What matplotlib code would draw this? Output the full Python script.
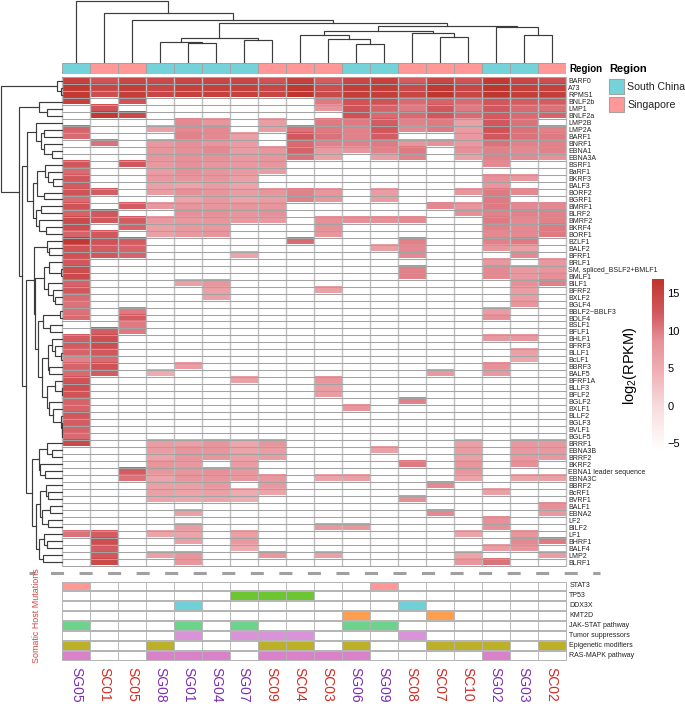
import numpy as np
import matplotlib
matplotlib.use("Agg")
import matplotlib.pyplot as plt
from matplotlib.colors import LinearSegmentedColormap
from matplotlib.patches import Rectangle

plt.rcParams['font.family'] = ['Liberation Sans', 'DejaVu Sans']
plt.rcParams['mathtext.fontset'] = 'custom'
plt.rcParams['mathtext.rm'] = 'Liberation Sans'
plt.rcParams['mathtext.default'] = 'regular'

W, H = 685, 704
_ = np.nan

samples = ["SG05","SC01","SC05","SG08","SG01","SG04","SG07","SC09","SC04","SC03",
           "SG06","SG09","SC08","SC07","SC10","SG02","SG03","SC02"]
regions = ["S","P","P","S","S","S","S","P","P","P","S","S","P","P","P","S","S","P"]
genes = ["BARF0","A73","RPMS1","BNLF2b","LMP1","BNLF2a","LMP2B","LMP2A","BARF1","BNRF1","EBNA1","EBNA3A",
         "BSRF1","BaRF1","BKRF3","BALF3","BORF2","BGRF1","BMRF1","BLRF2","BMRF2","BKRF4","BORF1","BZLF1",
         "BALF2","BFRF1","BRLF1","SM, spliced_BSLF2+BMLF1","BMLF1","BILF1","BFRF2","BXLF2","BGLF4",
         "BBLF2~BBLF3","BDLF4","BSLF1","BFLF1","BHLF1","BFRF3","BLLF1","BcLF1","BBRF3","BALF5","BFRF1A",
         "BLLF3","BFLF2","BGLF2","BXLF1","BLLF2","BGLF3","BVLF1","BGLF5","BRRF1","EBNA3B","BRRF2","BKRF2",
         "EBNA1 leader sequence","EBNA3C","BBRF2","BcRF1","BVRF1","BALF1","EBNA2","LF2","BILF2","LF1",
         "BHRF1","BALF4","LMP2","BLRF1"]

rpkm = [
[15,13,14.5,14,14.5,14.5,14.5,13,15,12,14.5,15,12,14.5,13,16,14.5,13.5],
[16,14.5,15.5,14.5,15,15,15,14.5,16,13.5,15.5,15.5,14,16,14.5,16.5,15,15],
[16,13.5,15.5,14.5,15,15,15,14.5,16.5,14,15.5,15.5,14.5,16.5,14.5,16.5,15.5,15.5],
[15,_,13,_,_,_,_,_,_,10,13,13,11,11.5,11,12.5,12,12],
[_,13,_,_,_,_,_,_,_,8,13,11.5,10,12.5,10,12.5,11,10.5],
[_,16,14,_,_,_,_,_,_,_,13,11,11,12.5,11,12,11,11.5],
[_,_,_,_,9,8,_,7,_,10,10,12,9.5,10,6.5,12.5,10.5,_],
[11.5,_,_,6.5,9,9,_,7,10.5,10,9.5,12.5,9,10,7,13,10.5,9.5],
[11,_,_,_,9.5,9,6.5,_,12.5,10.5,9.5,12,_,_,7.5,12.5,10.5,10],
[_,10.5,_,7.5,8.5,8,7,_,11,9.5,9.5,10,8,8.5,7.5,10.5,9.5,9.5],
[_,_,_,8,8.5,9,7,8,11.5,7.5,8,9.5,10,_,8.5,9.5,9,9.5],
[_,_,_,8,8.5,8.5,7.5,8,10.5,6.5,_,7,9.5,_,6.5,9.5,9,8.5],
[12.5,_,12.5,7.5,8.5,8,7.5,8,_,_,_,_,_,_,_,9,_,_],
[11,_,_,7,8.5,8,7.5,7,_,_,_,_,_,_,_,_,_,_],
[12.5,_,_,7.5,8,8,6.5,_,_,_,_,_,_,_,_,8.5,7.5,_],
[12,_,_,6.5,6,7,6,_,_,_,_,_,_,_,_,8,_,_],
[13,12,_,7,8.5,8,7,8,9.5,8,_,7,_,_,8,10,9,_],
[11,_,_,_,6,7.5,6,7,9.5,8,_,7,_,_,_,10,_,_],
[13,_,12,7.5,8,8,8,8,_,_,_,_,_,9,8,10,9,9],
[11.5,12.5,_,_,8.5,8.5,8,8.5,_,_,_,_,_,_,8.5,9.5,9.5,9.5],
[14,12.5,12,7.5,7.5,8,7.5,7.5,_,8.5,8.5,8.5,9,_,_,10,9,9.5],
[13.5,_,11.5,6.5,7.5,7.5,_,_,_,8.5,_,_,_,_,_,9.5,9,10],
[11.5,12.5,_,6.5,7.5,8,_,_,_,8,_,_,_,_,_,9,9,10],
[16,13,12,_,_,_,_,_,11,_,_,_,9.5,_,_,9.5,10,_],
[13,12,11.5,_,_,_,_,_,_,_,_,6.5,9,_,_,8,6.5,_],
[13,12.5,11.5,_,_,_,6,_,_,_,_,_,9,_,_,_,9,_],
[12.5,_,_,_,_,_,_,_,_,_,_,_,_,_,_,7.5,_,7.5],
[13.5,_,_,_,_,_,_,_,_,_,_,_,9.5,_,_,9,7.5,8],
[14,_,_,_,_,_,_,_,_,_,_,_,9.5,_,_,9,7.5,8.5],
[11.5,_,_,_,6.5,8,_,_,_,_,_,_,_,_,_,_,8.5,9.5],
[12.5,_,_,_,_,6.5,_,_,_,6.5,_,_,_,_,_,_,7,_],
[11,_,_,_,_,6.5,_,_,_,_,_,_,_,_,_,_,7,_],
[10.5,_,_,_,_,_,_,_,_,_,_,_,_,_,_,_,8,_],
[10.5,_,10,_,_,_,_,_,_,_,_,_,_,_,_,7,_,_],
[11,_,12,_,_,_,_,_,_,_,_,_,_,_,_,8.5,_,_],
[_,_,10,_,_,_,_,_,_,_,_,_,_,_,_,_,_,_],
[_,12,10,_,_,_,_,_,_,_,_,_,_,_,_,_,_,_],
[12,13.5,_,_,_,_,_,_,_,_,_,_,_,_,_,7.5,7.5,_],
[12,13.5,_,_,_,_,_,_,_,_,_,_,_,_,_,_,_,_],
[11.5,12.5,_,_,_,_,_,_,_,_,_,_,_,_,_,_,6.5,_],
[9.5,11,_,_,_,_,_,_,_,_,_,_,_,_,_,_,5.5,_],
[11.5,13,_,_,7,_,_,_,_,_,_,_,_,_,_,8.5,_,_],
[11,12,_,5,_,_,_,_,_,_,_,_,_,7.5,_,7.5,_,_],
[13,_,_,_,_,_,6.5,_,_,8,_,_,_,_,_,_,_,_],
[13.5,_,_,_,_,_,_,_,_,7,_,_,_,_,_,_,_,_],
[13,_,_,_,_,_,_,_,_,7,_,_,_,_,_,_,_,_],
[11.5,_,_,_,_,_,_,_,_,_,_,_,9.5,_,_,_,_,_],
[11.5,_,_,_,_,_,_,_,_,_,8,_,_,_,_,_,_,_],
[12.5,_,_,_,_,_,_,_,_,_,_,_,_,_,_,_,_,_],
[12,_,_,_,_,_,_,_,_,_,_,_,_,_,_,_,_,_],
[11.5,_,_,_,_,_,_,_,_,_,_,_,_,_,_,_,_,_],
[11,_,_,_,_,_,_,_,_,_,_,_,_,_,_,_,_,_],
[14,_,_,7,6.5,8,5.5,8,_,_,_,_,_,_,6.5,_,7.5,7.5],
[_,_,_,7,8,8,6,7,_,_,_,6.5,_,_,7,_,7.5,7.5],
[_,_,_,6,8,8,6.5,7,_,_,_,_,_,_,6.5,_,7.5,7.5],
[_,_,_,8,7.5,_,7,_,_,_,_,_,10,_,8,_,8.5,_],
[_,_,12,8,8,8.5,8,_,_,_,_,_,_,_,8,_,_,_],
[_,_,10.5,6,8,8,7.5,7.5,_,6,6.5,_,_,_,6,_,6,6.5],
[_,_,_,6.5,6.5,7.5,_,7.5,_,_,_,_,_,9,_,_,_,_],
[_,_,_,6.5,6,6.5,5,6,_,_,_,_,_,_,_,6.5,_,_],
[_,_,_,6,5.5,6,5,_,_,_,_,_,8.5,_,_,_,_,_],
[_,_,_,_,_,_,_,_,_,_,_,_,_,_,_,_,_,8.5],
[_,_,_,_,6.5,_,_,_,_,_,_,_,_,9,_,_,_,7.5],
[_,_,_,_,_,_,_,_,_,_,_,_,_,_,_,8.5,_,_],
[_,_,_,_,7,_,_,_,_,7.5,8,_,_,_,_,8.5,_,_],
[10.5,12,_,6,6,_,6.5,_,_,_,_,_,_,_,6,_,8,_],
[_,13.5,_,_,6.5,_,7.5,_,_,_,_,_,_,_,_,_,9,10],
[_,12,_,_,_,_,5,_,_,_,_,_,_,_,_,7,8,_],
[_,12.5,_,6.5,8,_,_,8,_,6.5,_,_,_,_,6,_,_,7],
[_,14,_,_,8,_,_,_,_,_,_,_,_,_,8,10.5,_,_],
]

mut_names = ["STAT3","TP53","DDX3X","KMT2D","JAK-STAT pathway","Tumor suppressors","Epigenetic modifiers","RAS-MAPK pathway"]
mut_hits = [[0,11],[6,7,8],[4,12],[10,13],[0,4,6,10,11],[4,6,7,8,12],
            [0,3,7,8,10,13,14,15,17],[0,3,4,5,7,8,9,10,15]]
mut_colors = ["#ff9896","#6cc62f","#6fd0d6","#fd9f4f","#6dd28b","#d993d9","#bcb029","#da82c9"]

# merge trees: (height, left, right), leaves are 1-based positions
col_tree = (61,1,(49.3,2,(41.7,3,(38.7,
    (24,(20,4,(18.7,5,6)),(22,7,8)),
    (36.3,(30.7,(27,9,(22.7,10,(17.7,11,12))),(28.7,13,(24.7,14,15))),
          (34.7,16,(27.3,17,18)))))))
row_tree = (61,(4.7,1,(1.5,2,3)),
 (42.7,(23,4,(15.3,5,6)),
  (40.3,
   (34.7,(26,7,(21.3,(18,8,9),(18,10,(9.7,11,12)))),
    (29.3,(24.7,(17,13,(14.3,14,(8.7,15,16))),(18,17,18)),
          (26,(21.3,19,20),(22.7,21,(16.3,22,23))))),
   (36,
    (28,(15.3,24,(12.7,25,26)),
     (27,(18,(12.7,27,(1,28,29)),(14,30,(9.3,31,(7,32,33)))),
      (23.7,(18.7,(2,34,35),(12,36,37)),
       (20.3,(14,(10.3,38,(7,39,(1.3,40,41))),(12.7,42,43)),
        (15,(7,44,(0.3,45,46)),(13,47,(8.7,48,(1,49,(0.5,50,(0.3,51,52))))))))),
     ),
    (29.7,(23,(15.3,53,(10.3,54,55)),(22,56,(17,57,58))),
     (26.3,(22,(16.3,59,(13.7,60,61)),(19.7,(12,62,63),(13.7,64,65))),
      (22.7,(18,66,(14.7,67,68)),(18.7,69,70))))))))

cb_ticks = [-5,0,5,10,15]
vmin, vmax = -5.93, 16.87
cmap = LinearSegmentedColormap.from_list("rpkm", [(0,"#ffffff"),(0.25,"#f8dcde"),(0.48,"#eeabb0"),(0.63,"#e8929a"),(0.79,"#d35b62"),(1,"#bf332a")])

fig = plt.figure(figsize=(W/100, H/100), dpi=100)
def axpx(x0, y0, x1, y1, **kw):
    return fig.add_axes([x0/W, 1-y1/H, (x1-x0)/W, (y1-y0)/H], **kw)

HX0, HX1 = 62, 565.5
HY0, HY1 = 77.5, 565.5
EDGE = '#a3a3a3'
REG = {"S":"#74d3d8", "P":"#ff9896"}
n_r, n_c = len(genes), len(samples)

# main heatmap
ax = axpx(HX0, HY0, HX1, HY1)
M = np.nan_to_num(np.array(rpkm, dtype=float), nan=vmin)
ax.imshow(M, cmap=cmap, vmin=vmin, vmax=vmax, aspect='auto', interpolation='nearest',
          extent=[0, n_c, n_r, 0])
ax.vlines(np.arange(n_c+1), 0, n_r, color='#bdbdbd', lw=1.0, clip_on=False)
ax.hlines(np.arange(n_r+1), 0, n_c, color=EDGE, lw=0.75, clip_on=False)
ax.set_xlim(0, n_c); ax.set_ylim(n_r, 0)
ax.set_xticks([]); ax.yaxis.tick_right()
ax.set_yticks(np.arange(n_r)+.5); ax.set_yticklabels(genes, fontsize=5.0, color='#222222')
ax.tick_params(axis='y', length=0, pad=2.0)
for s in ax.spines.values(): s.set_visible(False)

# annotation strip
ax_a = axpx(HX0, 63, HX1, 74)
for i, r in enumerate(regions):
    ax_a.add_patch(Rectangle((i,0),1,1,fc=REG[r],ec=EDGE,lw=0.7))
ax_a.set_xlim(0,n_c); ax_a.set_ylim(0,1); ax_a.axis('off')
ax_a.text(1.007, 0.5, "Region", transform=ax_a.transAxes, fontsize=7, fontweight='bold', va='center', ha='left')

# dendrograms
def walk(t, seg):
    if isinstance(t, int):
        return t-0.5, 0.0
    h, l, r = t
    pl, hl = walk(l, seg); pr, hr = walk(r, seg)
    seg.append(((pl,hl),(pl,h),(pr,h),(pr,hr)))
    return (pl+pr)/2, h

DCOL = '#3c3c3c'
ax_t = axpx(HX0, 0, HX1, 62)
seg = []; walk(col_tree, seg)
for s in seg:
    ax_t.plot(*zip(*s), color=DCOL, lw=0.85, solid_joinstyle='miter', clip_on=False)
ax_t.set_xlim(0,n_c); ax_t.set_ylim(0,62); ax_t.axis('off')

ax_l = axpx(0, HY0, HX0, HY1)
seg = []; walk(row_tree, seg)
for s in seg:
    ax_l.plot([p[1] for p in s],[p[0] for p in s], color=DCOL, lw=0.85, solid_joinstyle='miter', clip_on=False)
ax_l.set_xlim(62,0); ax_l.set_ylim(n_r,0); ax_l.axis('off')

# mutation panel
MY0, MSTEP, MH = 581.5, 9.95, 8.4
for i,(name,hits,c) in enumerate(zip(mut_names,mut_hits,mut_colors)):
    a = axpx(HX0, MY0+i*MSTEP, HX1, MY0+i*MSTEP+MH)
    for j in range(n_c):
        a.bar(j+.5, 1, width=1, bottom=0, color=c if j in hits else '#ffffff', edgecolor='#b4b4b4', linewidth=0.6)
    a.set_xlim(0,n_c); a.set_ylim(0,1); a.set_xticks([]); a.set_yticks([])
    for s in a.spines.values(): s.set_color('#b4b4b4'); s.set_linewidth(0.7)
    a.text(1.0075,0.5,name,transform=a.transAxes,fontsize=5.0,va='center',ha='left',color='#222222')

# sample labels
ax_s = axpx(HX0, 667, HX1, 704)
for i,s in enumerate(samples):
    ax_s.text(i+.5,1,s,rotation=270,ha='center',va='top',fontsize=10,
              color="#7a2fb0" if regions[i]=="S" else "#d42a22")
ax_s.set_xlim(0,n_c); ax_s.set_ylim(0,1); ax_s.axis('off')

# overlay
ov = axpx(0,0,W,H); ov.set_xlim(0,W); ov.set_ylim(H,0); ov.axis('off'); ov.patch.set_alpha(0)
ov.plot([29,600],[573.3,573.3],color='#a0a0a0',lw=2.2,linestyle=(2.3,(4.27,5.07)),dash_capstyle='butt')
ov.text(37,616,"Somatic Host Mutations",rotation=90,ha='center',va='center',fontsize=6.4,color='#d4453f')
ov.text(609,69,"Region",fontsize=8,fontweight='bold',va='center',ha='left')
ov.add_patch(Rectangle((609,79),15,15,fc=REG["S"],ec=EDGE,lw=0.8))
ov.add_patch(Rectangle((609,96.5),15,15,fc=REG["P"],ec=EDGE,lw=0.8))
ov.text(627,87,"South China",fontsize=7.6,va='center',ha='left',color='#222222')
ov.text(627,104.5,"Singapore",fontsize=7.6,va='center',ha='left',color='#222222')
ov.text(630,366,r"log$_2$(RPKM)",rotation=90,ha='center',va='center',fontsize=10.5)

# colour bar
ax_c = axpx(651.5,279,663,450)
ax_c.imshow(np.linspace(vmax,vmin,256)[:,None],aspect='auto',cmap=cmap,vmin=vmin,vmax=vmax,extent=[0,1,vmin,vmax])
ax_c.set_xticks([]); ax_c.yaxis.tick_right(); ax_c.set_yticks(cb_ticks)
ax_c.set_yticklabels([str(v).replace('-','\u2212') for v in cb_ticks],fontsize=8)
ax_c.tick_params(axis='y',length=0,pad=3)
for s in ax_c.spines.values(): s.set_visible(False)

fig.savefig("out.png",dpi=100)
